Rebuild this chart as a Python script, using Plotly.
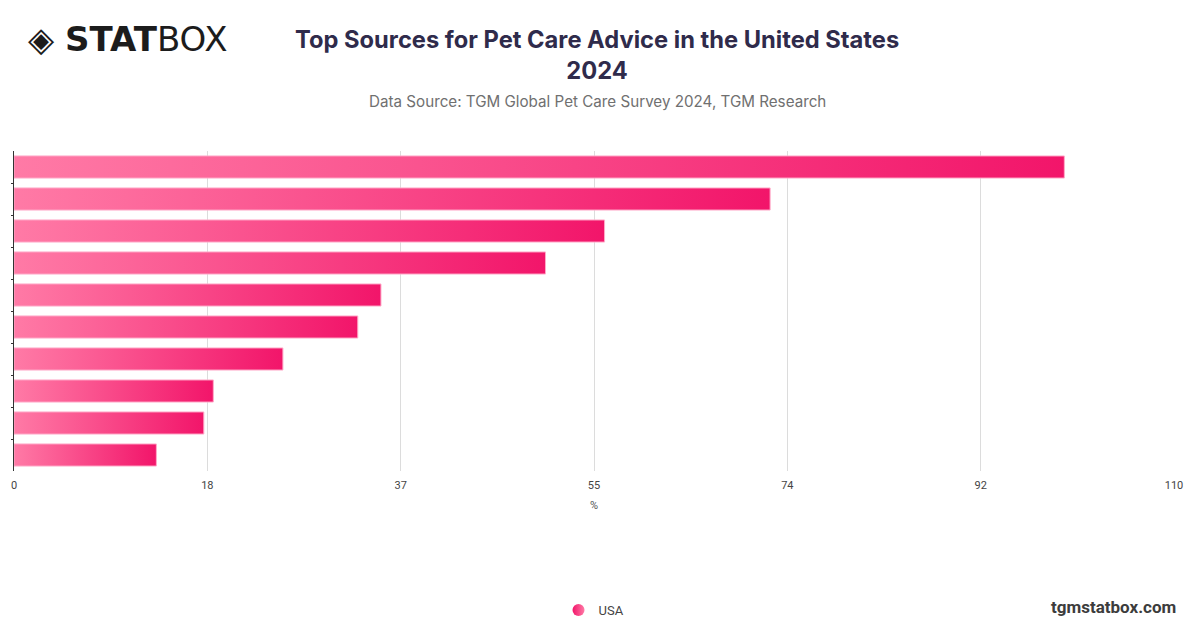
import numpy as np
import plotly.graph_objects as go

# ---- data ----
categories = [
    "Veterinarian", "Online search", "Friends and family", "Pet store staff",
    "Social media", "Breeder", "Books and magazines", "Pet apps",
    "TV programs", "Other",
]
values = [99.6, 71.7, 56.0, 50.4, 34.8, 32.6, 25.5, 18.9, 18.0, 13.5]
series_name = "USA"
tick_labels = ["0", "18", "37", "55", "74", "92", "110"]
axis_max = 110

title_text = "<b>Top Sources for Pet Care Advice in the United States<br>2024</b>"
subtitle_text = "Data Source: TGM Global Pet Care Survey 2024, TGM Research"

# ---- style ----
c_light = "#ff7aa6"
c_dark = "#f2156a"
half = 0.345

fig = go.Figure()

for i, (cat, v) in enumerate(zip(categories, values)):
    fig.add_trace(go.Scatter(
        x=[0, v, v, 0, 0],
        y=[i - half, i - half, i + half, i + half, i - half],
        mode="lines",
        fill="toself",
        fillgradient=dict(type="horizontal",
                          colorscale=[[0, c_light], [1, c_dark]]),
        line=dict(color="rgba(255,170,200,1)", width=1),
        name=cat,
        showlegend=False,
        hoveron="fills",
        text=f"{cat}: {v}%",
        hoverinfo="text",
    ))

# legend entry
fig.add_trace(go.Scatter(
    x=[None], y=[None], mode="markers", name=series_name,
    marker=dict(symbol="circle", size=15, color=c_dark,
                gradient=dict(type="horizontal", color=c_light)),
    showlegend=True,
))

fig.update_layout(
    width=1200, height=628,
    paper_bgcolor="white", plot_bgcolor="white",
    margin=dict(l=14, r=26, t=151, b=157),
    font=dict(family="Roboto, Liberation Sans, sans-serif", color="#444"),
    xaxis=dict(
        range=[0, axis_max],
        tickvals=list(np.linspace(0, axis_max, len(tick_labels))),
        ticktext=tick_labels,
        showgrid=True, gridcolor="#dcdcdc", gridwidth=1,
        zeroline=False, showline=False, ticks="",
        ticklabelstandoff=6,
        tickfont=dict(size=11, color="#444"),
        title=dict(text="%", font=dict(size=11, color="#555"), standoff=10),
        automargin=False,
        fixedrange=True,
    ),
    yaxis=dict(
        range=[len(categories) - 0.5, -0.5],
        showticklabels=False, showgrid=False, zeroline=False,
        showline=True, linecolor="#333", linewidth=1,
        ticks="outside", ticklen=2, tickcolor="#333",
        tickvals=[i + 0.5 for i in range(len(categories) - 1)],
        automargin=False,
        fixedrange=True,
    ),
    legend=dict(orientation="h", x=0.5, xanchor="center",
                yref="container", y=0.0287, yanchor="middle",
                font=dict(size=13, color="#444"), itemsizing="constant"),
    showlegend=True,
)

fig.add_annotation(
    text=title_text, xref="paper", yref="paper", x=0.503, y=1.3,
    xanchor="center", yanchor="middle", showarrow=False,
    font=dict(family="Inter, Roboto, sans-serif", size=23.7, color="#2f2b4b"),
)
fig.add_annotation(
    text=subtitle_text, xref="paper", yref="paper", x=0.5034, y=1.156,
    xanchor="center", yanchor="middle", showarrow=False,
    font=dict(family="Inter, Roboto, sans-serif", size=15.2, color="#707070"),
)
fig.add_annotation(
    text="◈ <b>STAT</b>BOX", xref="paper", yref="paper",
    x=0.0, y=1.35, xanchor="left", yanchor="middle", showarrow=False,
    xshift=12,
    font=dict(family="DejaVu Sans, Liberation Sans, sans-serif", size=34, color="#1c1c1c"),
)
fig.add_annotation(
    text="<b>tgmstatbox.com</b>", xref="paper", yref="paper",
    x=1.0, y=-0.426, xanchor="right", yanchor="middle", showarrow=False,
    xshift=4,
    font=dict(family="Roboto, Liberation Sans, sans-serif", size=17, color="#3c3c3c"),
)

fig.write_html("out.html", config={"displayModeBar": False},
               post_script="document.body.style.margin='0px';")
